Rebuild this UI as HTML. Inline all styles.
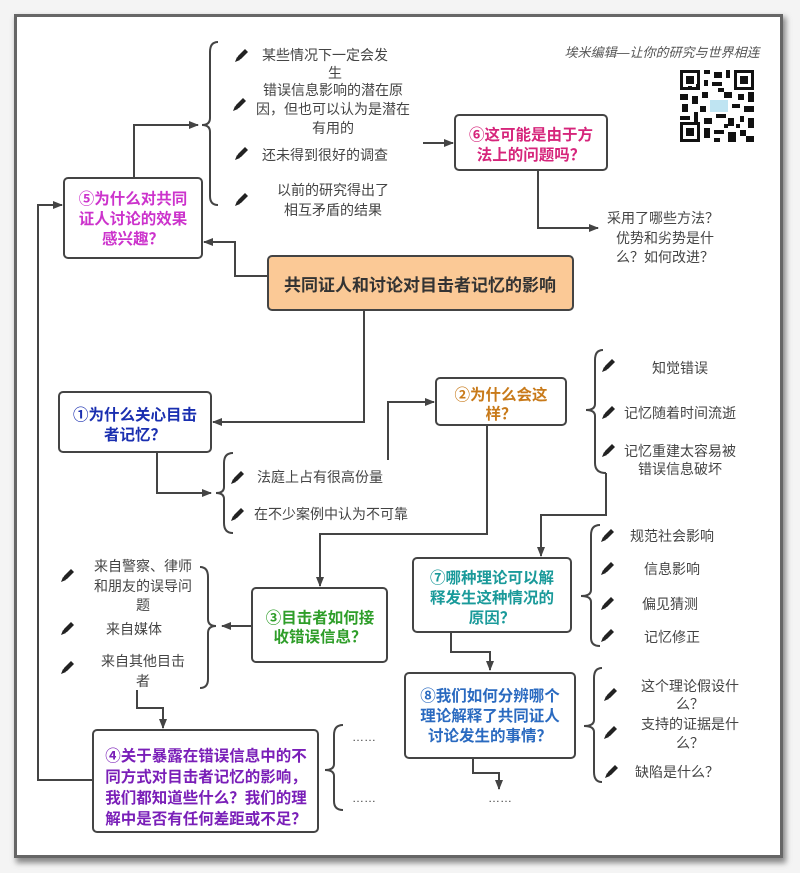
<!DOCTYPE html>
<html><head><meta charset="utf-8"><style>
html,body{margin:0;padding:0;background:#fff;}
body{width:800px;height:873px;overflow:hidden;}
svg text{font-family:"Liberation Sans","Noto Sans CJK SC",sans-serif;}
.t{font-size:14px;fill:#444;text-anchor:middle;}
.b{font-size:15.5px;font-weight:bold;text-anchor:middle;}
.ln{fill:none;stroke:#444;stroke-width:2;}
.nd{fill:#fff;stroke:#444;stroke-width:2;}
</style></head><body>
<svg width="800" height="873" viewBox="0 0 800 873" xmlns="http://www.w3.org/2000/svg">
<defs>
<marker id="a" markerWidth="10" markerHeight="8" refX="9" refY="4" orient="auto" markerUnits="userSpaceOnUse"><path d="M0,0 L10,4 L0,8 Z" fill="#444"/></marker>
<g id="p"><path d="M-6,6 L-4,1 L3,-6 L6,-3 L-1,4 Z" fill="#222"/><path d="M-7,7 L-5,2 L-2,5 Z" fill="#222"/></g>
<filter id="sh"><feGaussianBlur stdDeviation="3"/></filter>
</defs>
<rect x="0" y="0" width="800" height="873" fill="#f4f4f4"/>
<rect x="16" y="17" width="770" height="846" fill="#888" filter="url(#sh)"/>
<rect x="14" y="14" width="769" height="844" fill="#666"/>
<rect x="17" y="17" width="763" height="838" fill="#fff"/>

<!-- header -->
<text x="662" y="57" style="font-size:13px;fill:#555;font-style:italic;text-anchor:middle">埃米编辑—让你的研究与世界相连</text>
<g fill="#111">
<rect x="680" y="70" width="74" height="72" fill="#fff"/>
<rect x="680" y="70" width="20" height="20"/><rect x="683" y="73" width="14" height="14" fill="#fff"/><rect x="686" y="76" width="8" height="8"/>
<rect x="734" y="70" width="20" height="20"/><rect x="737" y="73" width="14" height="14" fill="#fff"/><rect x="740" y="76" width="8" height="8"/>
<rect x="680" y="122" width="20" height="20"/><rect x="683" y="125" width="14" height="14" fill="#fff"/><rect x="686" y="128" width="8" height="8"/>
<path d="M704 70h6v4h-6zM714 72h8v6h-8zM726 70h4v8h-4zM704 80h4v6h-4zM712 82h10v4h-10zM680 94h8v6h-8zM692 96h6v8h-6zM702 92h6v6h-6zM724 92h8v6h-8zM738 94h6v6h-6zM748 92h6v10h-6zM682 104h6v8h-6zM700 106h6v6h-6zM732 104h8v4h-8zM744 106h10v6h-10zM680 116h10v4h-10zM694 112h4v10h-4zM704 118h8v6h-8zM716 114h10v4h-10zM728 118h6v8h-6zM740 116h4v6h-4zM748 118h6v10h-6zM704 128h6v10h-6zM714 130h10v4h-10zM728 132h8v10h-8zM740 130h6v6h-6zM714 138h6v4h-6zM746 136h8v6h-8zM688 86h4v4h-4zM718 88h6v4h-6zM696 84h4v6h-4zM724 124h4v4h-4zM736 124h4v4h-4z"/>
<rect x="710" y="100" width="18" height="12" fill="#bfe4f2"/>
</g>

<!-- connectors -->
<path class="ln" d="M268,276 H235 V242 H204" marker-end="url(#a)"/>
<path class="ln" d="M134,178 V125 H198" marker-end="url(#a)"/>
<path class="ln" d="M218,42 Q210,42 210,52 V118 Q210,125 202,125 Q210,125 210,132 V196 Q210,205 218,205"/>
<path class="ln" d="M423,143 H453" marker-end="url(#a)"/>
<path class="ln" d="M538,170 V228 H598" marker-end="url(#a)"/>
<path class="ln" d="M364,310 V422 H213" marker-end="url(#a)"/>
<path class="ln" d="M157,452 V493 H211" marker-end="url(#a)"/>
<path class="ln" d="M233,453 Q224,453 224,463 V487 Q224,493 216,493 Q224,493 224,499 V523 Q224,533 233,533"/>
<path class="ln" d="M388,460 V402 H434" marker-end="url(#a)"/>
<path class="ln" d="M487,425 V534 H320 V586" marker-end="url(#a)"/>
<path class="ln" d="M603,350 Q595,350 595,360 V404 Q595,410 586,410 Q595,410 595,416 V463 Q595,473 606,473"/>
<path class="ln" d="M606,473 V515 H541 V556" marker-end="url(#a)"/>
<path class="ln" d="M600,525 Q591,525 591,535 V590 Q591,596 581,596 Q591,596 591,602 V638 Q591,646 600,646"/>
<path class="ln" d="M451,632 V652 H490 V670" marker-end="url(#a)"/>
<path class="ln" d="M602,668 Q594,668 594,678 V720 Q594,726 584,726 Q594,726 594,732 V772 Q594,782 602,782"/>
<path class="ln" d="M473,758 V773 H499 V789" marker-end="url(#a)"/>
<path class="ln" d="M252,626 H222" marker-end="url(#a)"/>
<path class="ln" d="M200,567 Q208,567 208,577 V619 Q208,626 216,626 Q208,626 208,633 V679 Q208,688 200,688"/>
<path class="ln" d="M137,690 V708 H163 V728" marker-end="url(#a)"/>
<path class="ln" d="M343,725 Q334,725 334,735 V764 Q334,770 325,770 Q334,770 334,776 V801 Q334,810 343,810"/>
<path class="ln" d="M93,780 H38 V205 H62" marker-end="url(#a)"/>

<!-- nodes -->
<rect class="nd" x="64" y="178" width="138" height="80" rx="4"/>
<text class="b" x="133" y="204" fill="#cc33cc">⑤为什么对共同</text>
<text class="b" x="133" y="224" fill="#cc33cc">证人讨论的效果</text>
<text class="b" x="133" y="244" fill="#cc33cc">感兴趣？</text>

<rect x="268" y="256" width="305" height="54" rx="4" fill="#fbc996" stroke="#444" stroke-width="2"/>
<text class="b" x="420" y="291" style="font-size:17px" fill="#333">共同证人和讨论对目击者记忆的影响</text>

<rect class="nd" x="455" y="115" width="152" height="55" rx="4"/>
<text class="b" x="531" y="140" fill="#d6257b">⑥这可能是由于方</text>
<text class="b" x="531" y="160" fill="#d6257b">法上的问题吗？</text>

<rect class="nd" x="59" y="392" width="152" height="60" rx="4"/>
<text class="b" x="135" y="420" fill="#1a2fb0">①为什么关心目击</text>
<text class="b" x="135" y="440" fill="#1a2fb0">者记忆？</text>

<rect class="nd" x="436" y="378" width="130" height="47" rx="4"/>
<text class="b" x="501" y="400" fill="#c87a1a">②为什么会这</text>
<text class="b" x="501" y="419" fill="#c87a1a">样？</text>

<rect class="nd" x="252" y="588" width="135" height="74" rx="4"/>
<text class="b" x="320" y="623" fill="#2f9e2a">③目击者如何接</text>
<text class="b" x="320" y="642" fill="#2f9e2a">收错误信息？</text>

<rect class="nd" x="413" y="558" width="158" height="74" rx="4"/>
<text class="b" x="492" y="583" fill="#1a9a9a">⑦哪种理论可以解</text>
<text class="b" x="492" y="603" fill="#1a9a9a">释发生这种情况的</text>
<text class="b" x="492" y="623" fill="#1a9a9a">原因？</text>

<rect class="nd" x="405" y="673" width="170" height="85" rx="4"/>
<text class="b" x="490" y="701" fill="#2a6ac0">⑧我们如何分辨哪个</text>
<text class="b" x="490" y="721" fill="#2a6ac0">理论解释了共同证人</text>
<text class="b" x="490" y="741" fill="#2a6ac0">讨论发生的事情？</text>

<rect class="nd" x="93" y="730" width="225" height="102" rx="4"/>
<text class="b" x="206" y="761" fill="#7a1fb8">④关于暴露在错误信息中的不</text>
<text class="b" x="206" y="782" fill="#7a1fb8">同方式对目击者记忆的影响，</text>
<text class="b" x="206" y="803" fill="#7a1fb8">我们都知道些什么？我们的理</text>
<text class="b" x="206" y="824" fill="#7a1fb8">解中是否有任何差距或不足？</text>

<!-- items -->
<use href="#p" x="242" y="55"/><use href="#p" x="240" y="104"/><use href="#p" x="242" y="153"/><use href="#p" x="242" y="199"/>
<text class="t" x="325" y="60">某些情况下一定会发</text>
<text class="t" x="335" y="78">生</text>
<text class="t" x="333" y="95">错误信息影响的潜在原</text>
<text class="t" x="333" y="114">因，但也可以认为是潜在</text>
<text class="t" x="333" y="133">有用的</text>
<text class="t" x="325" y="160">还未得到很好的调查</text>
<text class="t" x="333" y="195">以前的研究得出了</text>
<text class="t" x="333" y="215">相互矛盾的结果</text>

<text class="t" x="663" y="223">采用了哪些方法？</text>
<text class="t" x="665" y="243">优势和劣势是什</text>
<text class="t" x="665" y="262">么？如何改进？</text>

<use href="#p" x="238" y="477"/><use href="#p" x="238" y="514"/>
<text class="t" x="257" y="482" style="text-anchor:start">法庭上占有很高份量</text>
<text class="t" x="254" y="519" style="text-anchor:start">在不少案例中认为不可靠</text>

<use href="#p" x="609" y="365"/><use href="#p" x="609" y="412"/><use href="#p" x="609" y="450"/>
<text class="t" x="680" y="373">知觉错误</text>
<text class="t" x="680" y="418">记忆随着时间流逝</text>
<text class="t" x="680" y="456">记忆重建太容易被</text>
<text class="t" x="680" y="474">错误信息破坏</text>

<use href="#p" x="608" y="535"/><use href="#p" x="608" y="568"/><use href="#p" x="608" y="603"/><use href="#p" x="608" y="635"/>
<text class="t" x="672" y="541">规范社会影响</text>
<text class="t" x="672" y="574">信息影响</text>
<text class="t" x="670" y="609">偏见猜测</text>
<text class="t" x="672" y="642">记忆修正</text>

<use href="#p" x="611" y="694"/><use href="#p" x="611" y="732"/><use href="#p" x="612" y="771"/>
<text class="t" x="690" y="691">这个理论假设什</text>
<text class="t" x="690" y="709">么？</text>
<text class="t" x="690" y="729">支持的证据是什</text>
<text class="t" x="690" y="748">么？</text>
<text class="t" x="677" y="777">缺陷是什么？</text>

<use href="#p" x="68" y="575"/><use href="#p" x="68" y="628"/><use href="#p" x="68" y="667"/>
<text class="t" x="143" y="571">来自警察、律师</text>
<text class="t" x="143" y="591">和朋友的误导问</text>
<text class="t" x="143" y="610">题</text>
<text class="t" x="134" y="634">来自媒体</text>
<text class="t" x="143" y="666">来自其他目击</text>
<text class="t" x="143" y="686">者</text>

<text class="t" x="364" y="741" style="font-size:12px">……</text>
<text class="t" x="364" y="802" style="font-size:12px">……</text>
<text class="t" x="500" y="802" style="font-size:12px">……</text>
</svg>
</body></html>
